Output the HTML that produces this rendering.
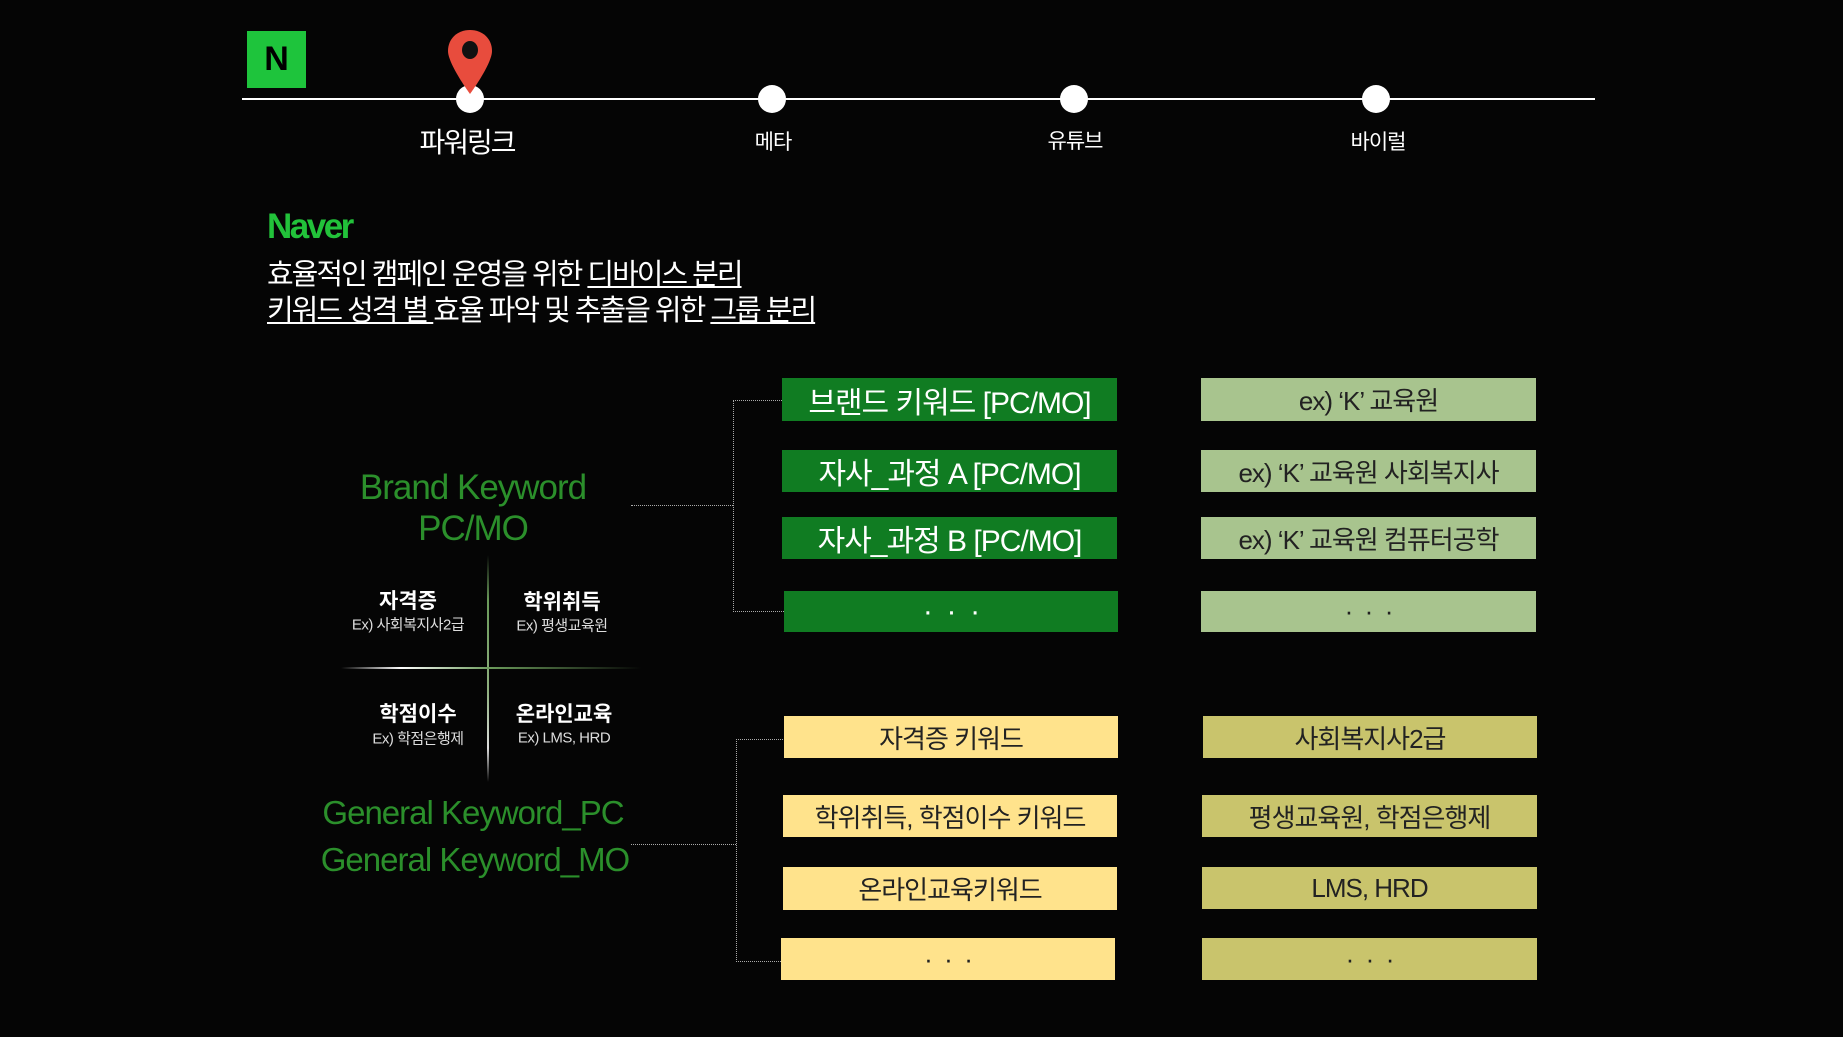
<!DOCTYPE html>
<html><head><meta charset="utf-8"><style>
body{margin:0;width:1843px;height:1037px;background:#050505;position:relative;overflow:hidden;font-family:"Liberation Sans","Noto Sans CJK KR",sans-serif;}
.a{position:absolute}
.t{position:absolute;transform:translate(-50%,-50%);white-space:nowrap}
.box{position:absolute;display:flex;align-items:center;justify-content:center;white-space:nowrap;letter-spacing:-1px}
.g{background:#107c22;color:#fff;font-size:30px}
.lg{background:#a8c48e;color:#222;font-size:26px}
.y{background:#ffe38c;color:#222;font-size:26px}
.o{background:#c9c46c;color:#222;font-size:26px}
.dot{position:absolute;width:28px;height:28px;border-radius:50%;background:#fff;transform:translate(-50%,-50%);top:99px}
.dl{position:absolute;border-color:#aaa;border-style:dotted;border-width:0}
</style></head><body>
<div class="a" style="left:247px;top:31px;width:59px;height:57px;background:#1ec43c;color:#000;font:bold 34px 'Liberation Sans';display:flex;align-items:center;justify-content:center">N</div>
<div class="a" style="left:242px;top:98px;width:1353px;height:2px;background:#fff"></div>
<div class="dot" style="left:470px"></div><div class="dot" style="left:772px"></div><div class="dot" style="left:1074px"></div><div class="dot" style="left:1376px"></div>
<svg class="a" style="left:446px;top:28px" width="48" height="68" viewBox="0 0 48 68"><path d="M24 2C11 2 2 11 2 23C2 36 24 66 24 66C24 66 46 36 46 23C46 11 37 2 24 2Z" fill="#e84c3d"/><ellipse cx="24" cy="22" rx="8" ry="9" fill="#111"/></svg>
<div class="t" style="left:467px;top:141px;color:#fff;font-size:28px;letter-spacing:-2px">파워링크</div>
<div class="t" style="left:773px;top:141px;color:#fff;font-size:21px;letter-spacing:-1px">메타</div>
<div class="t" style="left:1075px;top:140px;color:#fff;font-size:21px;letter-spacing:-1px">유튜브</div>
<div class="t" style="left:1378px;top:141px;color:#fff;font-size:21px;letter-spacing:-1px">바이럴</div>
<div class="a" style="left:267px;top:207px;color:#22c23a;font-size:35px;font-weight:bold;letter-spacing:-2.5px">Naver</div>
<div class="a" style="left:267px;top:251px;color:#fff;font-size:29px;letter-spacing:-2px">효율적인 캠페인 운영을 위한 <u>디바이스 분리</u></div>
<div class="a" style="left:267px;top:287px;color:#fff;font-size:29px;letter-spacing:-2px"><u>키워드 성격 별 </u>효율 파악 및 추출을 위한 <u>그룹 분리</u></div>

<div class="t" style="left:473px;top:488px;color:#2b8f2b;font-size:35px;letter-spacing:-1px">Brand Keyword</div>
<div class="t" style="left:473px;top:529px;color:#2b8f2b;font-size:35px;letter-spacing:-1px">PC/MO</div>
<div class="t" style="left:473px;top:813px;color:#2b8f2b;font-size:33px;letter-spacing:-1px">General Keyword_PC</div>
<div class="t" style="left:475px;top:860px;color:#2b8f2b;font-size:33px;letter-spacing:-1px">General Keyword_MO</div>
<div class="a" style="left:487px;top:555px;width:2px;height:227px;background:linear-gradient(#050505,#6a9a5a 20%,#8fb07f 60%,#ddd 85%,#050505)"></div>
<div class="a" style="left:341px;top:667px;width:300px;height:2px;background:linear-gradient(90deg,#050505,#fff 20%,#6a9a5a 50%,#050505)"></div>
<div class="t" style="left:408px;top:600px;color:#fff;font-size:21px;font-weight:bold">자격증</div>
<div class="t" style="left:408px;top:624px;color:#ddd;font-size:15px;letter-spacing:-0.5px">Ex) 사회복지사2급</div>
<div class="t" style="left:562px;top:601px;color:#fff;font-size:21px;font-weight:bold">학위취득</div>
<div class="t" style="left:562px;top:625px;color:#ddd;font-size:15px;letter-spacing:-0.5px">Ex) 평생교육원</div>
<div class="t" style="left:418px;top:713px;color:#fff;font-size:21px;font-weight:bold">학점이수</div>
<div class="t" style="left:418px;top:738px;color:#ddd;font-size:15px;letter-spacing:-0.5px">Ex) 학점은행제</div>
<div class="t" style="left:564px;top:713px;color:#fff;font-size:21px;font-weight:bold">온라인교육</div>
<div class="t" style="left:564px;top:738px;color:#ddd;font-size:15px;letter-spacing:-0.5px">Ex) LMS, HRD</div>

<div class="dl" style="left:631px;top:505px;width:102px;border-top-width:1px"></div>
<div class="dl" style="left:733px;top:400px;height:210px;width:50px;border-left-width:1px;border-top-width:1px;border-bottom-width:1px"></div>
<div class="dl" style="left:631px;top:844px;width:105px;border-top-width:1px"></div>
<div class="dl" style="left:736px;top:739px;height:221px;width:46px;border-left-width:1px;border-top-width:1px;border-bottom-width:1px"></div>

<div class="box g" style="left:782px;top:378px;width:335px;height:43px">브랜드 키워드 [PC/MO]</div>
<div class="box g" style="left:782px;top:450px;width:335px;height:42px">자사_과정 A [PC/MO]</div>
<div class="box g" style="left:782px;top:517px;width:335px;height:42px">자사_과정 B [PC/MO]</div>
<div class="box g" style="left:784px;top:591px;width:334px;height:41px">·&nbsp;&nbsp;·&nbsp;&nbsp;·</div>
<div class="box lg" style="left:1201px;top:378px;width:335px;height:43px">ex) ‘K’ 교육원</div>
<div class="box lg" style="left:1201px;top:450px;width:335px;height:42px">ex) ‘K’ 교육원 사회복지사</div>
<div class="box lg" style="left:1201px;top:517px;width:335px;height:42px">ex) ‘K’ 교육원 컴퓨터공학</div>
<div class="box lg" style="left:1201px;top:591px;width:335px;height:41px">·&nbsp;&nbsp;·&nbsp;&nbsp;·</div>

<div class="box y" style="left:784px;top:716px;width:334px;height:42px">자격증 키워드</div>
<div class="box y" style="left:783px;top:795px;width:334px;height:42px">학위취득, 학점이수 키워드</div>
<div class="box y" style="left:783px;top:867px;width:334px;height:43px">온라인교육키워드</div>
<div class="box y" style="left:781px;top:938px;width:334px;height:42px">·&nbsp;&nbsp;·&nbsp;&nbsp;·</div>
<div class="box o" style="left:1203px;top:716px;width:334px;height:42px">사회복지사2급</div>
<div class="box o" style="left:1202px;top:795px;width:335px;height:42px">평생교육원, 학점은행제</div>
<div class="box o" style="left:1202px;top:867px;width:335px;height:42px">LMS, HRD</div>
<div class="box o" style="left:1202px;top:938px;width:335px;height:42px">·&nbsp;&nbsp;·&nbsp;&nbsp;·</div>
</body></html>
